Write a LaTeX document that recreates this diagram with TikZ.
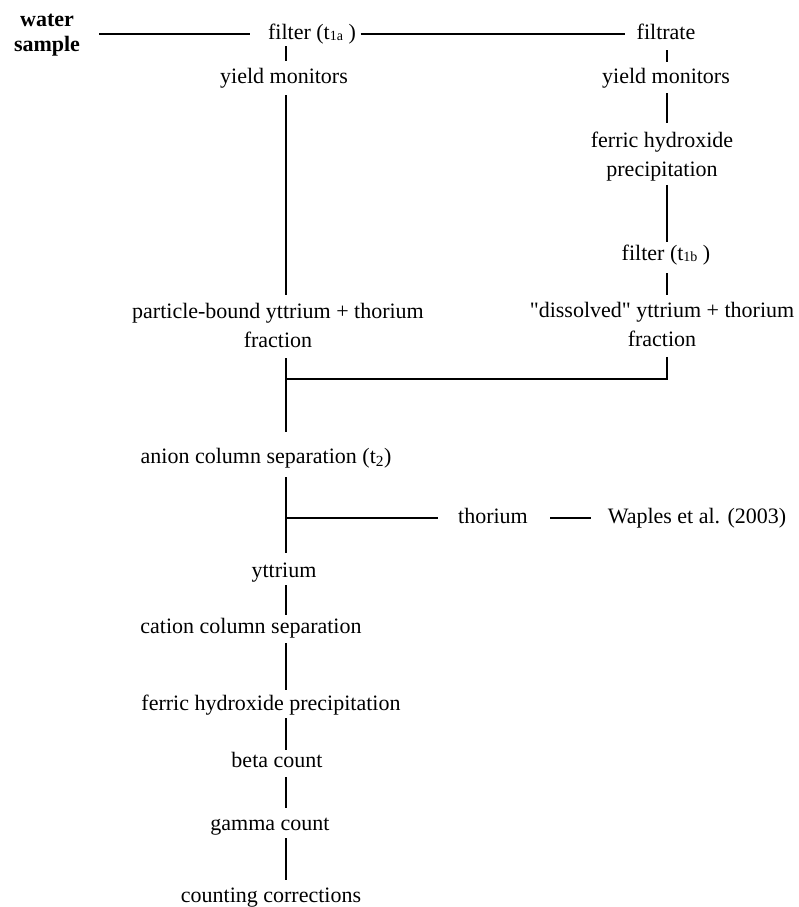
\documentclass[tikz,border=0pt]{standalone}
\usepackage{fontspec}
\setmainfont{Liberation Serif}
\newfontfamily\plainqfont{Liberation Serif}[Ligatures=ResetAll]
\newcommand\mytopstrut{\rule{0pt}{15.5pt}}
\newcommand\mybotstrut{\rule[-5pt]{0pt}{5pt}}
\newcommand\smallsub[1]{\raisebox{-1pt}{\fontsize{14}{14}\selectfont #1}}
\newcommand\straightquote{{\plainqfont\symbol{34}}}
\begin{document}
\begin{tikzpicture}[x=1pt,y=-1pt,
  lbl/.style={inner sep=0pt, text height=15.5pt, text depth=5pt, font=\fontsize{22}{29}\selectfont},
  lbltwo/.style={inner sep=0pt, align=center, font=\fontsize{22}{29}\selectfont},
  conn/.style={line width=2.6pt}]
\useasboundingbox (0,0) rectangle (799,907);
\coordinate (colL) at (286,0);
\coordinate (colR) at (667,0);
\coordinate (mergeL) at (286,379);
\coordinate (branchL) at (286,518);

% nodes
\node[inner sep=0pt, align=center, font=\fontsize{22}{25}\selectfont\bfseries] (water) at (47,34) {\mytopstrut water\\sample\mybotstrut};
\node[lbl] (filterA) at (312,34) {filter (t\smallsub{1a} )};
\node[lbl] (filtrate) at (666,34) {filtrate};
\node[lbl] (yieldL) at (284,78) {yield monitors};
\node[lbl] (yieldR) at (666,78) {yield monitors};
\node[lbltwo] (ferricR) at (662,157) {\mytopstrut ferric hydroxide\\precipitation\mybotstrut};
\node[lbl] (filterB) at (666,255) {filter (t\smallsub{1b} )};
\node[lbltwo] (dissR) at (662,327) {\mytopstrut\straightquote dissolved\straightquote{} yttrium + thorium\\fraction\mybotstrut};
\node[lbltwo] (partL) at (278,327.5) {\mytopstrut particle-bound yttrium + thorium\\fraction\mybotstrut};
\node[lbl] (anion) at (266,458) {anion column separation (t\textsubscript{2})};
\node[lbl] (thorium) at (493,518) {thorium};
\node[lbl] (waples) at (697,518) {Waples et al. (2003)};
\node[lbl] (yttrium) at (284,572) {yttrium};
\node[lbl] (cation) at (251,628) {cation column separation};
\node[lbl] (ferricL) at (271,705) {ferric hydroxide precipitation};
\node[lbl] (beta) at (277,762) {beta count};
\node[lbl] (gamma) at (270,825) {gamma count};
\node[lbl] (counting) at (271,897) {counting corrections};

% horizontal top
\draw[conn] ([xshift=19pt]water.east) -- ([xshift=-17.5pt]filterA.west);
\draw[conn] ([xshift=4.5pt]filterA.east) -- ([xshift=-11pt]filtrate.west);

% left column
\draw[conn] ([yshift=-2pt]filterA.south -| colL) -- ([yshift=7pt]yieldL.north -| colL);
\draw[conn] ([yshift=-7pt]yieldL.south -| colL) -- ([yshift=8pt]partL.north -| colL);
\draw[conn] ([yshift=-6pt]partL.south -| colL) -- ([yshift=16pt]anion.north -| colL);
\draw[conn] ([yshift=-9pt]anion.south -| colL) -- ([yshift=9pt]yttrium.north -| colL);
\draw[conn] ([yshift=-3pt]yttrium.south -| colL) -- ([yshift=3pt]cation.north -| colL);
\draw[conn] ([yshift=-5pt]cation.south -| colL) -- ([yshift=5pt]ferricL.north -| colL);
\draw[conn] ([yshift=-3pt]ferricL.south -| colL) -- ([yshift=2pt]beta.north -| colL);
\draw[conn] ([yshift=-5pt]beta.south -| colL) -- ([yshift=7pt]gamma.north -| colL);
\draw[conn] ([yshift=-3pt]gamma.south -| colL) -- ([yshift=7pt]counting.north -| colL);

% right column
\draw[conn] ([yshift=-6pt]filtrate.south -| colR) -- ([yshift=6pt]yieldR.north -| colR);
\draw[conn] ([yshift=-5pt]yieldR.south -| colR) -- ([yshift=9pt]ferricR.north -| colR);
\draw[conn] ([yshift=-3pt]ferricR.south -| colR) -- ([yshift=3pt]filterB.north -| colR);
\draw[conn] ([yshift=-8pt]filterB.south -| colR) -- ([yshift=7pt]dissR.north -| colR);
\draw[conn] ([yshift=-5pt]dissR.south -| colR) |- (mergeL);

% thorium branch
\draw[conn] (branchL) -- ([xshift=-20pt]thorium.west);
\draw[conn] ([xshift=22pt]thorium.east) -- ([xshift=-17pt]waples.west);
\end{tikzpicture}
\end{document}
